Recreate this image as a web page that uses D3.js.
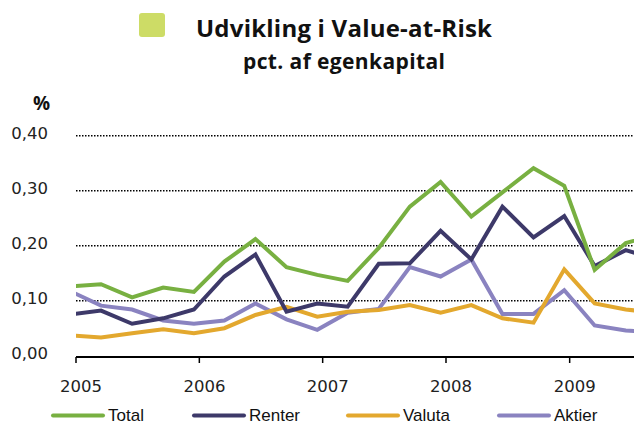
<!DOCTYPE html>
<html>
<head>
<meta charset="utf-8">
<script src="https://cdn.jsdelivr.net/npm/d3@7"></script>
<style>
  body { margin: 0; background: #fff; }
  svg { display: block; }
</style>
</head>
<body>
<div id="chart"></div>
<script>
// observationer pr. kvartal (kvartalets sidste maaned)
var months = ["2004-12", "2005-03", "2005-06", "2005-09", "2005-12", "2006-03", "2006-06", "2006-09",
              "2006-12", "2007-03", "2007-06", "2007-09", "2007-12", "2008-03", "2008-06", "2008-09",
              "2008-12", "2009-03", "2009-06", "2009-09"];
var total  = [0.126, 0.130, 0.106, 0.124, 0.116, 0.171, 0.212, 0.161, 0.147, 0.136, 0.196, 0.271,
              0.316, 0.253, 0.297, 0.341, 0.309, 0.156, 0.205, 0.220];
var renter = [0.075, 0.082, 0.058, 0.068, 0.084, 0.144, 0.184, 0.080, 0.095, 0.089, 0.167, 0.168,
              0.227, 0.175, 0.271, 0.215, 0.254, 0.163, 0.192, 0.175];
var valuta = [0.037, 0.033, 0.041, 0.048, 0.041, 0.050, 0.074, 0.089, 0.071, 0.080, 0.083, 0.092,
              0.078, 0.092, 0.068, 0.060, 0.157, 0.095, 0.084, 0.078];
var aktier = [0.117, 0.091, 0.084, 0.064, 0.058, 0.064, 0.095, 0.066, 0.047, 0.078, 0.085, 0.161,
              0.144, 0.175, 0.076, 0.076, 0.119, 0.055, 0.046, 0.042];
var seriesNames = ["Total", "Renter", "Valuta", "Aktier"];
var seriesColors = ["#78b041", "#3d3969", "#e3a82e", "#8a83c0"];
var yTicks = [0, 0.1, 0.2, 0.3, 0.4];
var years = [2005, 2006, 2007, 2008, 2009];

var width = 634, height = 423;
var plotLeft = 76, plotBottom = 355.7, plotTop = 135.7;

var svg = d3.select("#chart").append("svg")
    .attr("width", width)
    .attr("height", height);

var parse = d3.timeParse("%Y-%m");
var dates = months.map(function (m) {
    var d = parse(m);
    return new Date(d.getFullYear(), d.getMonth(), 16);
});

var x = d3.scaleTime()
    .domain([new Date(2005, 0, 1), new Date(2010, 0, 1)])
    .range([plotLeft, plotLeft + 5 * 123.4]);
var y = d3.scaleLinear()
    .domain([0, 0.4])
    .range([plotBottom, plotTop]);

var da = d3.formatLocale({decimal: ",", thousands: ".", grouping: [3], currency: ["", " kr"]});
var fmt = da.format(".2f");

// titel
svg.append("rect")
    .attr("x", 139).attr("y", 13)
    .attr("width", 26).attr("height", 24)
    .attr("rx", 3)
    .style("fill", "#cddc66");

svg.append("text")
    .attr("x", 344).attr("y", 37)
    .attr("text-anchor", "middle")
    .attr("textLength", 296)
    .style("font-family", "'Open Sans', sans-serif")
    .style("font-weight", "bold")
    .style("font-size", "24px")
    .style("fill", "#111")
    .text("Udvikling i Value-at-Risk");

svg.append("text")
    .attr("x", 344).attr("y", 69)
    .attr("text-anchor", "middle")
    .attr("textLength", 202)
    .style("font-family", "'Open Sans', sans-serif")
    .style("font-weight", "bold")
    .style("font-size", "21px")
    .style("fill", "#111")
    .text("pct. af egenkapital");

svg.append("text")
    .attr("x", 33).attr("y", 110)
    .style("font-family", "'Open Sans', sans-serif")
    .style("font-weight", "bold")
    .style("font-size", "19px")
    .style("fill", "#111")
    .text("%");

// gitter
svg.append("g").selectAll("line")
    .data(yTicks.filter(function (d) { return d > 0; }))
    .enter().append("line")
    .attr("x1", plotLeft).attr("x2", width)
    .attr("y1", function (d) { return y(d); })
    .attr("y2", function (d) { return y(d); })
    .style("stroke", "#000")
    .style("stroke-width", 1.5)
    .style("stroke-dasharray", "1.5,1.5");

svg.append("g").selectAll("text")
    .data(yTicks)
    .enter().append("text")
    .attr("x", 48)
    .attr("y", function (d) { return y(d) + 3; })
    .attr("text-anchor", "end")
    .style("font-family", "'DejaVu Sans', sans-serif")
    .style("font-size", "16.5px")
    .style("fill", "#222")
    .text(function (d) { return fmt(d); });

// linjer
svg.append("defs").append("clipPath")
    .attr("id", "plot")
    .append("rect")
    .attr("x", plotLeft).attr("y", 0)
    .attr("width", width - plotLeft).attr("height", height);

var series = [total, renter, valuta, aktier];
var line = d3.line()
    .x(function (d, i) { return x(dates[i]); })
    .y(function (d) { return y(d); });

svg.append("g")
    .attr("clip-path", "url(#plot)")
    .selectAll("path")
    .data(series.slice().reverse())
    .enter().append("path")
    .attr("d", line)
    .style("fill", "none")
    .style("stroke", function (d, i) { return seriesColors[series.length - 1 - i]; })
    .style("stroke-width", 4)
    .style("stroke-linejoin", "miter");

// x-akse
var axisY = 357;
svg.append("line")
    .attr("x1", plotLeft).attr("x2", width)
    .attr("y1", axisY).attr("y2", axisY)
    .style("stroke", "#000")
    .style("stroke-width", 2);

svg.append("g").selectAll("line")
    .data(years)
    .enter().append("line")
    .attr("x1", function (d) { return x(new Date(d, 0, 1)); })
    .attr("x2", function (d) { return x(new Date(d, 0, 1)); })
    .attr("y1", axisY).attr("y2", axisY + 6)
    .style("stroke", "#000")
    .style("stroke-width", 1.5);

svg.append("g").selectAll("text")
    .data(years)
    .enter().append("text")
    .attr("x", function (d) { return x(new Date(d, 0, 16)); })
    .attr("y", 392)
    .attr("text-anchor", "middle")
    .style("font-family", "'DejaVu Sans', sans-serif")
    .style("font-size", "16.5px")
    .style("fill", "#222")
    .text(function (d) { return d; });

// legende
var legendX = [53, 194, 348, 499];
var legend = svg.append("g").selectAll("g")
    .data(seriesNames)
    .enter().append("g")
    .attr("transform", function (d, i) { return "translate(" + legendX[i] + ",415.5)"; });

legend.append("line")
    .attr("x1", 0).attr("x2", 50)
    .style("stroke", function (d, i) { return seriesColors[i]; })
    .style("stroke-width", 4)
    .style("stroke-linecap", "round");

legend.append("text")
    .attr("x", 55).attr("y", 5.5)
    .style("font-family", "'Liberation Sans', Arial, sans-serif")
    .style("font-size", "17px")
    .style("fill", "#111")
    .text(function (d) { return d; });
</script>
</body>
</html>
